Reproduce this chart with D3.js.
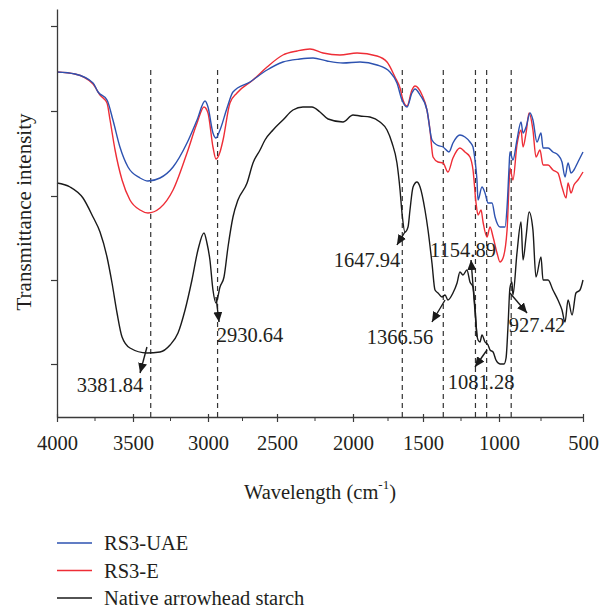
<!DOCTYPE html>
<html>
<head>
<meta charset="utf-8">
<script src="https://cdn.jsdelivr.net/npm/d3@7"></script>
<style>
  body { margin: 0; background: #fff; }
  text { font-family: "Liberation Serif", "Times New Roman", serif; fill: #231f20; }
</style>
</head>
<body>
<svg id="chart"></svg>
<script>
// spectra: [wavenumber (cm-1), transmittance (a.u.)]
var nativeStarch = [[4000,58.5],[3914,57.5],[3829,54.75],[3763,50],[3717,46.25],[3671,40],[3638,33.5],[3605,26],[3572,20],[3520,17.25],
  [3407,16],[3320,16.25],[3253,18],[3200,21],[3153,26.75],[3107,34.25],[3067,41.75],[3027,46],[3007,43.5],[2986,39.25],
  [2964,31.75],[2942,28.5],[2913,32.5],[2884,35],[2855,42.5],[2819,50],[2783,54.25],[2717,58.5],[2674,63.5],[2623,66.75],
  [2587,69.25],[2529,71.75],[2461,74.25],[2395,76.75],[2329,77.5],[2270,77.5],[2217,76.25],[2164,74.5],[2066,73.75],[2000,75.5],
  [1950,75.25],[1879,75],[1807,73.75],[1757,71.75],[1721,68.5],[1686,63.5],[1664,56.75],[1650,51],[1629,46.25],[1607,47.5],
  [1593,51.75],[1571,57.5],[1543,58.75],[1521,57.5],[1487,51.75],[1467,46.75],[1441,38.5],[1421,31.75],[1401,31],[1375,30],
  [1355,30.5],[1336,29.25],[1303,31],[1276,33.5],[1257,36.25],[1237,35.5],[1211,36.75],[1191,33.75],[1171,32.5],[1158,27.5],
  [1145,20.5],[1138,19.25],[1125,18.75],[1112,20.5],[1092,18.75],[1072,18],[1059,16.75],[1039,16.25],[1020,14.25],[994,13.25],
  [970,13.25],[958,14.75],[946,23],[935,32.25],[923,33.75],[917,30.5],[893,41],[869,48.75],[857,39.25],[839,45],
  [821,51.25],[798,46.75],[780,35],[750,40],[738,34.25],[708,34.25],[679,31.75],[649,29.25],[625,26.75],[607,23.75],
  [589,29.25],[565,25.5],[542,31],[518,31.75],[500,34.25]];

var rs3UAE = [[4000,86.25],[3882,85.75],[3763,83.5],[3730,81.25],[3671,79.25],[3632,74.25],[3586,67.5],[3533,62.5],[3453,59.75],[3400,59],
  [3320,59.75],[3233,62.5],[3140,68.5],[3073,74.25],[3020,79],[3000,77.5],[2964,71],[2942,69.75],[2913,71.75],[2862,77.25],
  [2819,81.25],[2696,83.75],[2572,86.75],[2461,88.75],[2349,89.5],[2263,89.75],[2171,89],[2066,88.5],[1950,88.75],[1829,88],
  [1736,86.25],[1686,83.5],[1650,79.25],[1614,77.5],[1579,81],[1557,82],[1521,80.5],[1474,76.75],[1441,69.25],[1408,68],
  [1368,67.5],[1329,66.25],[1303,68.5],[1257,70.5],[1224,70],[1191,68.75],[1171,67.5],[1158,64.25],[1145,59.25],[1138,54.25],
  [1112,57.5],[1092,56],[1072,53.5],[1046,53.5],[1026,50],[994,47.5],[964,47.5],[952,52.5],[940,62.5],[935,66.25],
  [917,64.25],[893,69.25],[869,73.75],[857,71],[839,72.5],[815,76],[798,74.25],[774,68.75],[750,71],[738,67.25],
  [708,67.25],[679,66.25],[649,65.5],[625,63.75],[607,60],[589,63.5],[571,61],[554,61.75],[530,63.75],[500,66.25]];

var rs3E = [[4000,86.25],[3882,85.75],[3763,83.25],[3717,80.5],[3671,78.5],[3651,74.25],[3618,66.75],[3572,59.25],[3520,54.25],[3453,51.75],
  [3400,51],[3320,52.25],[3233,56.75],[3140,66],[3073,73.5],[3027,77.5],[3000,76],[2964,67.5],[2942,64.5],[2913,66.25],
  [2891,69.25],[2841,78.5],[2790,81],[2674,84.25],[2572,87.5],[2461,90.5],[2368,91.5],[2283,92],[2197,91],[2086,90.5],
  [1971,91],[1829,90.25],[1757,88.75],[1700,85],[1664,82.25],[1643,79.25],[1614,77.75],[1579,81.75],[1557,82.75],[1507,80.5],
  [1474,76.75],[1454,71.75],[1434,65],[1401,63.75],[1368,63.5],[1336,61.25],[1303,64.75],[1257,67.25],[1224,66.25],[1191,65],
  [1171,61.75],[1151,53.5],[1138,50.5],[1118,51.75],[1105,48.75],[1079,45],[1059,47.5],[1039,45],[1013,41],[994,38.75],
  [976,39.75],[952,46.75],[940,58.5],[935,62.25],[917,59.25],[893,68],[869,71.75],[857,67.5],[839,71],[821,76],
  [798,71.75],[780,65],[756,66.75],[738,63],[708,63],[679,61.75],[649,61],[625,57.5],[601,54.75],[589,58.5],
  [571,56],[554,58],[530,59.25],[500,61.25]];

var seriesNames = ["RS3-UAE", "RS3-E", "Native arrowhead starch"];
var seriesColors = ["#2d52b0", "#ee2d36", "#1a1a1a"];

var xMajorTicks = [4000, 3500, 3000, 2500, 2000, 1500, 1000, 500];
var xMinorTicks = [3750, 3250, 2750, 2250, 1750, 1250, 750];
var yTicks = [13.25, 34.25, 55.25, 76.5, 97.75];

var peaks = [3381.84, 2930.64, 1647.94, 1366.56, 1154.89, 1081.28, 927.42];
var dashTop = 86.75;
// arrow tail, arrow tip and label centre, in data units
var peakNotes = [
  { label: "3381.84", from: [3407, 17.5], to: [3453, 11], at: [3651, 8] },
  { label: "2930.64", from: [2942, 30], to: [2920, 23.75], at: [2696, 20.5] },
  { label: "1647.94", from: [1629, 46.25], to: [1686, 43], at: [1900, 39.25] },
  { label: "1366.56", from: [1355, 29.25], to: [1441, 23.75], at: [1664, 20] },
  { label: "1154.89", from: [1145, 20], to: [1184, 39.25], at: [1237, 41.75] },
  { label: "1081.28", from: [1079, 16.75], to: [1158, 12.5], at: [1118, 8.75] },
  { label: "927.42", from: [935, 31], to: [833, 26], at: [774, 23] }
];

var svgWidth = 599, svgHeight = 609;
var fontSize = 20.5;
var svg = d3.select("#chart").attr("width", svgWidth).attr("height", svgHeight);

// the printed axis is slightly uneven, so the scale is piecewise over the major ticks
var x = d3.scaleLinear()
  .domain(xMajorTicks)
  .range([57, 133, 208, 277, 353, 423, 499, 583]);

var y = d3.scaleLinear().domain([0, 102]).range([417, 9]);

var defs = svg.append("defs");
defs.append("marker")
  .attr("id", "head")
  .attr("markerUnits", "userSpaceOnUse")
  .attr("markerWidth", 11).attr("markerHeight", 9)
  .attr("refX", 10).attr("refY", 4.5)
  .attr("orient", "auto")
  .append("path")
  .attr("d", "M0,0 L10,4.5 L0,9 Z")
  .attr("fill", "#1a1a1a");

// dashed peak markers
svg.append("g").selectAll("line")
  .data(peaks)
  .enter().append("line")
  .attr("x1", d => x(d)).attr("x2", d => x(d))
  .attr("y1", y(dashTop)).attr("y2", y(0))
  .attr("stroke", "#333")
  .attr("stroke-width", 1.2)
  .attr("stroke-dasharray", "5,4");

// spectra
var line = d3.line()
  .x(d => x(d[0]))
  .y(d => y(d[1]))
  .curve(d3.curveMonotoneX);

var spectra = [rs3E, rs3UAE, nativeStarch];
var spectraColor = [seriesColors[1], seriesColors[0], seriesColors[2]];
svg.append("g").selectAll("path")
  .data(spectra)
  .enter().append("path")
  .attr("d", line)
  .attr("fill", "none")
  .attr("stroke", (d, i) => spectraColor[i])
  .attr("stroke-width", 1.4)
  .attr("stroke-linejoin", "round");

// axes
var xAxis = d3.axisBottom(x)
  .tickValues(xMajorTicks)
  .tickSize(5)
  .tickSizeOuter(0)
  .tickFormat(d3.format("d"));

var gx = svg.append("g")
  .attr("transform", "translate(0," + y(0) + ")")
  .call(xAxis);
gx.selectAll(".tick line").attr("y1", -3);
gx.selectAll(".tick text")
  .attr("y", 18)
  .attr("font-size", fontSize)
  .attr("font-family", "Liberation Serif, serif")
  .attr("fill", "#231f20");

gx.selectAll(".minor")
  .data(xMinorTicks)
  .enter().append("line")
  .attr("class", "minor")
  .attr("x1", d => x(d)).attr("x2", d => x(d))
  .attr("y1", 0).attr("y2", 4)
  .attr("stroke", "#3a3a3a");

var yAxis = d3.axisLeft(y)
  .tickValues(yTicks)
  .tickSize(6)
  .tickSizeOuter(0)
  .tickFormat("");

var gy = svg.append("g")
  .attr("transform", "translate(" + x(4000) + ",0)")
  .call(yAxis);

svg.selectAll(".domain").attr("stroke", "#3a3a3a").attr("stroke-width", 1.3);
svg.selectAll(".tick line").attr("stroke", "#3a3a3a").attr("stroke-width", 1.2);

// titles
var xTitle = svg.append("text")
  .attr("x", 320).attr("y", 492)
  .attr("dy", "0.35em")
  .attr("text-anchor", "middle")
  .attr("font-size", fontSize);
xTitle.append("tspan").text("Wavelength (cm");
xTitle.append("tspan").attr("font-size", 13).attr("dy", "-0.75em").text("-1");
xTitle.append("tspan").attr("dy", "0.45em").text(")");

svg.append("text")
  .attr("transform", "translate(24,212) rotate(-90)")
  .attr("dy", "0.35em")
  .attr("text-anchor", "middle")
  .attr("font-size", 21)
  .text("Transmittance intensity");

// peak annotations
var notes = svg.append("g").selectAll("g")
  .data(peakNotes)
  .enter().append("g");

notes.append("line")
  .attr("x1", d => x(d.from[0])).attr("y1", d => y(d.from[1]))
  .attr("x2", d => x(d.to[0])).attr("y2", d => y(d.to[1]))
  .attr("stroke", "#1a1a1a")
  .attr("stroke-width", 1.4)
  .attr("marker-end", "url(#head)");

notes.append("text")
  .attr("x", d => x(d.at[0])).attr("y", d => y(d.at[1]))
  .attr("dy", "0.35em")
  .attr("text-anchor", "middle")
  .attr("font-size", fontSize)
  .text(d => d.label);

// legend
var legend = svg.append("g").selectAll("g")
  .data(seriesNames)
  .enter().append("g")
  .attr("transform", (d, i) => "translate(57," + (543 + i * 27.5) + ")");

legend.append("line")
  .attr("x1", 0).attr("x2", 35)
  .attr("stroke", (d, i) => seriesColors[i])
  .attr("stroke-width", 1.4);

legend.append("text")
  .attr("x", 47)
  .attr("dy", "0.35em")
  .attr("font-size", fontSize)
  .text(d => d);
</script>
</body>
</html>
